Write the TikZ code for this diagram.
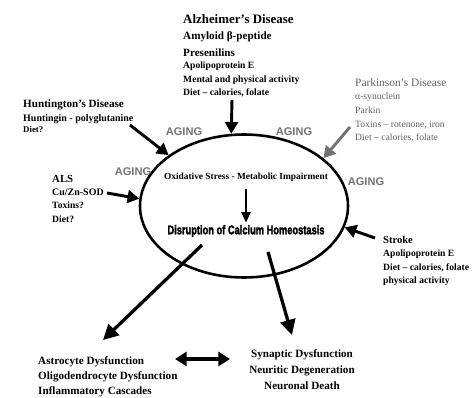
\documentclass[tikz,border=0pt]{standalone}
\usepackage{graphicx}
\usepackage{fontspec}
\setmainfont{Liberation Serif}
\newfontfamily\agingfont{Liberation Sans}
\newfontfamily\heavyfont{Liberation Sans}[BoldFeatures={FakeBold=2.5}]
\usepackage{tikz}
\usetikzlibrary{arrows.meta,shapes.geometric,positioning}
\definecolor{agegray}{gray}{0.45}
\definecolor{pdgray}{gray}{0.38}

\begin{document}
\begin{tikzpicture}[x=0.03cm, y=-0.03cm,
  disease/.style={inner sep=0pt, anchor=north west, align=left, font=\bfseries\fontsize{8.2}{11}\selectfont},
  aging/.style={inner sep=0pt, text=agegray, font=\agingfont\bfseries\fontsize{9.5}{10}\selectfont},
  push/.style={line width=2.5pt, -{Triangle[length=10pt,width=11pt]}},
  outcome/.style={line width=2.8pt, -{Triangle[length=13pt,width=13pt]}},
  twoway/.style={line width=3pt, {Triangle[length=10pt,width=12pt]}-{Triangle[length=10pt,width=12pt]}}]
\useasboundingbox (0,0) rectangle (474,398);

% centre
\node [ellipse, draw, line width=2.2pt, minimum width=6.24cm, minimum height=4.29cm] (core) at (244,206) {};
\node [inner sep=0pt, font=\bfseries\fontsize{8}{10}\selectfont] (oxid) at (246,177) {Oxidative Stress - Metabolic Impairment};
\node [inner sep=0pt] (calcium) at (246,231) {\heavyfont\bfseries\resizebox{134pt}{7.8pt}{Disruption of Calcium Homeostasis}};
\draw [line width=1.2pt, -{Triangle[length=9pt,width=8pt]}, shorten <=6pt, shorten >=2pt] (oxid) -- (calcium);

\node [aging] (age1) at (184,132) {AGING};
\node [aging] (age2) at (294,132) {AGING};
\node [aging] (age3) at (133,172) {AGING};
\node [aging] (age4) at (366,182) {AGING};

% diseases
\node [disease] (alz) at (183,14) {\fontsize{11}{11}\selectfont Alzheimer's Disease\\[2.6pt]
  \fontsize{9.5}{11}\selectfont Amyloid β-peptide\\[3.5pt]
  \fontsize{9.5}{11}\selectfont Presenilins\\
  Apolipoprotein E\\[0.9pt]
  Mental and physical activity\\
  Diet – calories, folate};
\node [disease, font=\bfseries\fontsize{8.5}{9.4}\selectfont] (hunt) at (23,100) {\fontsize{9.5}{11}\selectfont Huntington's Disease\\[2.5pt]
  Huntingin - polyglutanine\\
  \fontsize{7.5}{9}\selectfont Diet?};
\node [disease] (als) at (52,175) {\fontsize{9.2}{11}\selectfont ALS\\
  \fontsize{8.5}{11}\selectfont Cu/Zn-SOD\\
  Toxins?\\[0.9pt]
  Diet?};
\node [disease, text=pdgray, font=\mdseries\fontsize{8.2}{11.7}\selectfont] (park) at (355,78) {\fontsize{9.7}{11}\selectfont Parkinson's Disease\\
  α-synuclein\\
  Parkin\\
  Toxins – rotenone, iron\\
  Diet – calories, folate};
\node [disease, font=\bfseries\fontsize{8.2}{11.4}\selectfont] (stroke) at (383,236) {\fontsize{9}{11}\selectfont Stroke\\
  Apolipoprotein E\\
  Diet – calories, folate\\
  physical activity};

\draw [push] ([shift={(49,86)}]alz.north west) -- (core.100);
\draw [push] ([shift={(107,25)}]hunt.north west) -- (core.146);
\draw [push] ([shift={(55,18)}]als.north west) -- (core.176);
\draw [push, draw=agegray, fill=agegray] ([shift={(-5,49)}]park.north west) -- (core.31.5);
\draw [push] ([shift={(-8,2)}]stroke.north west) -- (core.348);

% outcomes
\node [disease, font=\bfseries\fontsize{9.5}{12.8}\selectfont] (astro) at (38,356) {Astrocyte Dysfunction\\
  Oligodendrocyte Dysfunction\\
  Inflammatory Cascades};
\node [disease, anchor=north, align=center, font=\bfseries\fontsize{9.5}{14}\selectfont] (synapse) at (302,349) {Synaptic Dysfunction\\
  Neuritic Degeneration\\
  Neuronal Death};

\draw [outcome] ([shift={(-44,14)}]calcium.center) -- ([shift={(65,-16)}]astro.north west);
\draw [outcome] ([shift={(22,21)}]calcium.center) -- ([shift={(-10,-14)}]synapse.north);
\draw [twoway] ([shift={(137,3)}]astro.north west) -- ([shift={(-72,10)}]synapse.north);

\end{tikzpicture}
\end{document}
